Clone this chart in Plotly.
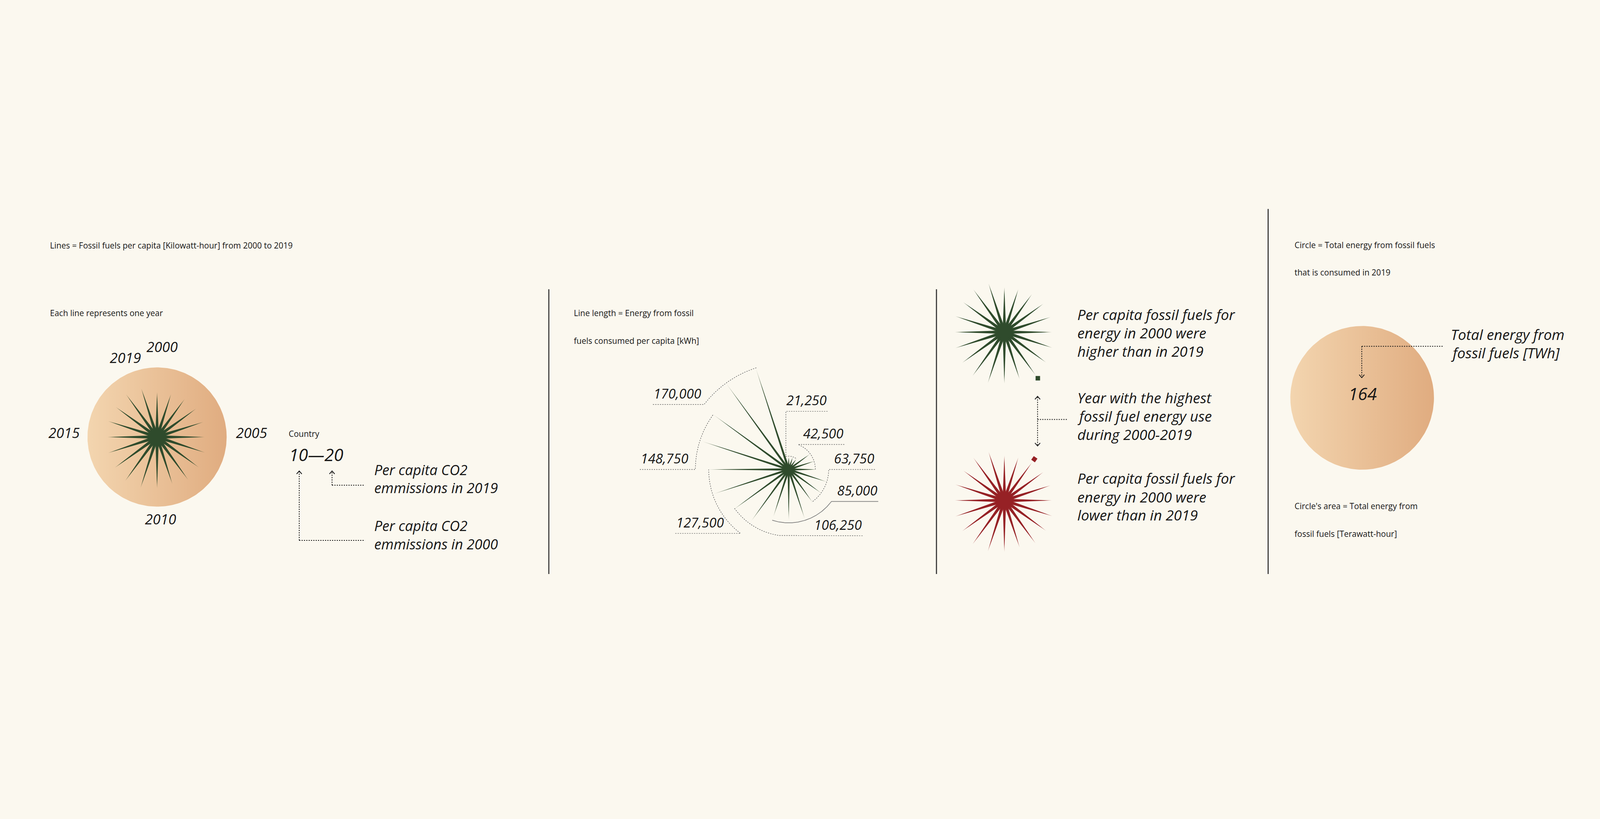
import numpy as np
import plotly.graph_objects as go

# the page gets shown a bit zoomed with the usual 8px body margin,
# so layout numbers below are screenshot pixels and get converted once
ZOOM = 1.047
MARGIN = 8
W, H = 4080, 1984            # css size of the figure

BG = '#FBF8EF'
INK = '#161616'
GREEN = (47, 75, 44)
RED = (150, 33, 37)
PEACH = ['#F3D5AF', '#E0AC80']
FONT = 'Open Sans'

years = list(range(2000, 2020))

# example country on the legend stars, fossil fuel kWh per capita 2000..2019
example_kwh = [71500, 72000, 74700, 76700, 77400, 75600, 80300, 82000, 84200, 78600,
               81600, 85000, 86200, 83000, 82000, 78900, 82100, 81000, 84000, 81300]
peak_year_high = 2008   # square on the green star
peak_year_low = 2002    # square on the red star

# line length scale star (kWh per capita)
scale_kwh = [20200, 20500, 20800, 41900, 43900, 44600, 64100, 64800, 65100, 82600,
             80800, 79100, 101500, 109300, 125700, 128400, 145500, 149200, 169700, 170200]
scale_steps = [21250, 42500, 63750, 85000, 106250, 127500, 148750, 170000]
scale_labels = ['21,250', '42,500', '63,750', '85,000', '106,250', '127,500', '148,750', '170,000']
# angular span of each scale arc, degrees clockwise from 12 o'clock
arc_from = [-12.3, 20.5, 90, 126.8, 186.6, 217, 270, 307.5]
arc_to = [38, 90, 144.8, 198, 234.4, 270, 306, 342.4]

# total energy from fossil fuels (TWh) -> circle area
example_twh = 154
legend_twh = 164

KWH_PER_PX = 594.4          # star scale (screenshot px)
PX_PER_SQRT_TWH = 15.03     # circle scale

fig = go.Figure()


def rgba(c, a=1.0):
    return f'rgba({c[0]},{c[1]},{c[2]},{a})'


def px(x, y):
    # screenshot pixel -> paper coords
    return (x / ZOOM - MARGIN) / W, 1 - (y / ZOOM - MARGIN) / H


def sz(v):
    return v / ZOOM


def add_axes(n, cx, cy, half, unit_per_px):
    # square, invisible axes centred on (cx, cy)
    s = '' if n == 1 else str(n)
    r = [-half * unit_per_px, half * unit_per_px]
    x0, y1 = px(cx - half, cy - half)
    x1, y0 = px(cx + half, cy + half)
    fig.update_layout({
        'xaxis' + s: dict(domain=[x0, x1], range=r, visible=False, fixedrange=True, anchor='y' + s),
        'yaxis' + s: dict(domain=[y0, y1], range=r, visible=False, fixedrange=True, anchor='x' + s),
    })
    return 'x' + s, 'y' + s


def circle(ax, twh):
    r = np.sqrt(twh)
    t = np.linspace(0, 2 * np.pi, 240)
    fig.add_trace(go.Scatter(x=r * np.cos(t), y=r * np.sin(t), xaxis=ax[0], yaxis=ax[1],
                             mode='lines', line=dict(width=0), fill='toself',
                             fillgradient=dict(type='horizontal', colorscale=[[0, PEACH[0]], [1, PEACH[1]]]),
                             hoverinfo='skip', showlegend=False))


def star(ax, values, col, base_px, blob_px, fade, tip_alpha):
    n = len(values)
    w = base_px * KWH_PER_PX
    for i, v in enumerate(values):
        th = np.radians(i * 360 / n)
        dx, dy = np.sin(th), np.cos(th)
        xs = [dy * w, dx * v, -dy * w, dy * w]
        ys = [-dx * w, dy * v, dx * w, -dx * w]
        if abs(dx) >= abs(dy):
            grad = dict(type='horizontal', start=0, stop=dx * v)
        else:
            grad = dict(type='vertical', start=0, stop=dy * v)
        grad['colorscale'] = [[0, rgba(col)], [fade, rgba(col)], [1, rgba(col, tip_alpha)]]
        fig.add_trace(go.Scatter(x=xs, y=ys, xaxis=ax[0], yaxis=ax[1], mode='lines',
                                 line=dict(width=0), fill='toself', fillgradient=grad,
                                 hoverinfo='skip', showlegend=False))
    fig.add_trace(go.Scatter(x=[0], y=[0], xaxis=ax[0], yaxis=ax[1], mode='markers',
                             marker=dict(size=sz(blob_px * 2), color=rgba(col), line=dict(width=0)),
                             hoverinfo='skip', showlegend=False))


def peak_square(ax, values, year, col, angle):
    i = years.index(year)
    th = np.radians(i * 360 / len(values))
    r = values[i] + 11 * KWH_PER_PX
    fig.add_trace(go.Scatter(x=[r * np.sin(th)], y=[r * np.cos(th)], xaxis=ax[0], yaxis=ax[1],
                             mode='markers',
                             marker=dict(symbol='square', size=sz(12), color=rgba(col), angle=angle),
                             hoverinfo='skip', showlegend=False))


# ---- panel 1: how to read a flower
ax_c1 = add_axes(1, 421, 1171, 200, 1 / PX_PER_SQRT_TWH)
circle(ax_c1, example_twh)
ax_s1 = add_axes(2, 421, 1171, 200, KWH_PER_PX)
star(ax_s1, example_kwh, GREEN, 4.8, 18, 0.85, 0.55)

# ---- panel 2: line length scale
ax_s2 = add_axes(3, 2114, 1258, 420, KWH_PER_PX)
leader_rise_px = [121, 0, 0, 0, 0, 0, 0, 0]
leader_reach_px = [104, 149, 231, 240, 198, -304, -399, -364]
arc_dash = ['dot', 'dot', 'dot', 'solid', 'dot', 'dot', 'dot', 'dot']
for k, val in enumerate(scale_steps):
    a = np.radians(np.linspace(arc_from[k], arc_to[k], 80))
    arc_x = val * np.sin(a)
    arc_y = val * np.cos(a)
    ly = arc_y[0] + leader_rise_px[k] * KWH_PER_PX
    lx = leader_reach_px[k] * KWH_PER_PX
    xs = [lx] + ([arc_x[0]] if leader_rise_px[k] else []) + list(arc_x)
    ys = [ly] + ([ly] if leader_rise_px[k] else []) + list(arc_y)
    solid = arc_dash[k] == 'solid'
    fig.add_trace(go.Scatter(x=xs, y=ys, xaxis=ax_s2[0], yaxis=ax_s2[1], mode='lines',
                             line=dict(color='#7c7c7c' if solid else '#5e5e5e', width=1.7 if solid else 1.4,
                                       dash=arc_dash[k]),
                             hoverinfo='skip', showlegend=False))
    fig.add_annotation(x=lx, y=ly + 30 * KWH_PER_PX, xref=ax_s2[0], yref=ax_s2[1],
                       text=scale_labels[k], showarrow=False,
                       xanchor='right' if lx > 0 else 'left', yanchor='middle',
                       font=dict(family=FONT, size=sz(36), color=INK, style='italic'))
star(ax_s2, scale_kwh, GREEN, 3.1, 12, 0.8, 0.35)

# ---- panel 3: colour and peak year
ax_g = add_axes(4, 2692, 890, 170, KWH_PER_PX)
star(ax_g, example_kwh, GREEN, 4.8, 18, 0.85, 0.55)
peak_square(ax_g, example_kwh, peak_year_high, GREEN, 0)
ax_r = add_axes(5, 2692, 1341, 170, KWH_PER_PX)
star(ax_r, example_kwh, RED, 4.8, 18, 0.85, 0.55)
peak_square(ax_r, example_kwh, peak_year_low, RED, 35)

# ---- panel 4: circle size
ax_c4 = add_axes(6, 3651, 1066, 200, 1 / PX_PER_SQRT_TWH)
circle(ax_c4, legend_twh)


# ---- text
def note(text, x, y, size, italic=False, anchor='left'):
    a, b = px(x, y)
    fig.add_annotation(x=a, y=b, xref='paper', yref='paper', text=text, showarrow=False,
                       xanchor=anchor, yanchor='middle',
                       font=dict(family=FONT, size=sz(size), color=INK, style='italic' if italic else 'normal'))


SMALL = 22
note('Lines = Fossil fuels per capita [Kilowatt-hour] from 2000 to 2019', 132, 657, SMALL)
note('Each line represents one year', 132, 839, SMALL)
note('2000', 434, 929, 38, True, 'center')
note('2019', 336, 958, 38, True, 'center')
note('2015', 172, 1159, 38, True, 'center')
note('2005', 674, 1159, 38, True, 'center')
note('2010', 430, 1390, 38, True, 'center')
note('Country', 772, 1162, SMALL)
note('10—20', 773, 1218, 46, True)
note('Per capita CO2', 1001, 1258, 38, True)
note('emmissions in 2019', 1001, 1307, 38, True)
note('Per capita CO2', 1001, 1408, 38, True)
note('emmissions in 2000', 1001, 1457, 38, True)

note('Line length = Energy from fossil', 1536, 839, SMALL)
note('fuels consumed per capita [kWh]', 1536, 913, SMALL)

note('Per capita fossil fuels for', 2886, 842, 39, True)
note('energy in 2000 were', 2886, 892, 39, True)
note('higher than in 2019', 2886, 941, 39, True)
note('Year with the highest', 2886, 1065, 39, True)
note('fossil fuel energy use', 2886, 1115, 39, True)
note('during 2000-2019', 2886, 1164, 39, True)
note('Per capita fossil fuels for', 2886, 1281, 39, True)
note('energy in 2000 were', 2886, 1331, 39, True)
note('lower than in 2019', 2886, 1379, 39, True)

note('Circle = Total energy from fossil fuels', 3468, 656, SMALL)
note('that is consumed in 2019', 3468, 730, SMALL)
note(str(legend_twh), 3652, 1054, 46, True, 'center')
note('Total energy from', 3886, 896, 39, True)
note('fossil fuels [TWh]', 3886, 945, 39, True)
note("Circle's area = Total energy from", 3468, 1356, SMALL)
note('fossil fuels [Terawatt-hour]', 3468, 1430, SMALL)


# ---- rules, dotted pointers, arrow heads
def rule(x, y0, y1):
    a, b = px(x, y0)
    _, c = px(x, y1)
    fig.add_shape(type='line', xref='paper', yref='paper', x0=a, y0=b, x1=a, y1=c,
                  line=dict(color='#3a3a3a', width=sz(3)))


def dotted(x0, y0, x1, y1):
    a, b = px(x0, y0)
    c, d = px(x1, y1)
    fig.add_shape(type='line', xref='paper', yref='paper', x0=a, y0=b, x1=c, y1=d,
                  line=dict(color=INK, width=2, dash='dot'))


def head(x, y, up=True):
    s = 1 if up else -1
    p1 = px(x - 7, y + 8 * s)
    p2 = px(x, y)
    p3 = px(x + 7, y + 8 * s)
    fig.add_shape(type='path', xref='paper', yref='paper',
                  path=f'M {p1[0]},{p1[1]} L {p2[0]},{p2[1]} L {p3[0]},{p3[1]}',
                  line=dict(color=INK, width=2))


rule(1471, 775, 1538)
rule(2510, 775, 1538)
rule(3399, 560, 1538)

dotted(890, 1300, 890, 1264)
dotted(890, 1300, 978, 1300)
head(890, 1262)
dotted(802, 1448, 802, 1264)
dotted(802, 1448, 978, 1448)
head(802, 1262)

dotted(2781, 1064, 2781, 1193)
dotted(2781, 1124, 2860, 1124)
head(2781, 1062)
head(2781, 1195, up=False)

dotted(3650, 928, 3869, 928)
dotted(3650, 928, 3650, 1010)
head(3650, 1012, up=False)

fig.update_layout(width=W, height=H, margin=dict(l=0, r=0, t=0, b=0),
                  paper_bgcolor=BG, plot_bgcolor='rgba(0,0,0,0)', showlegend=False,
                  font=dict(family=FONT, color=INK))

# page behind the figure in the same cream
fig.write_html('out.html',
               post_script=f"document.documentElement.style.background='{BG}';"
                           f"document.body.style.background='{BG}';")
